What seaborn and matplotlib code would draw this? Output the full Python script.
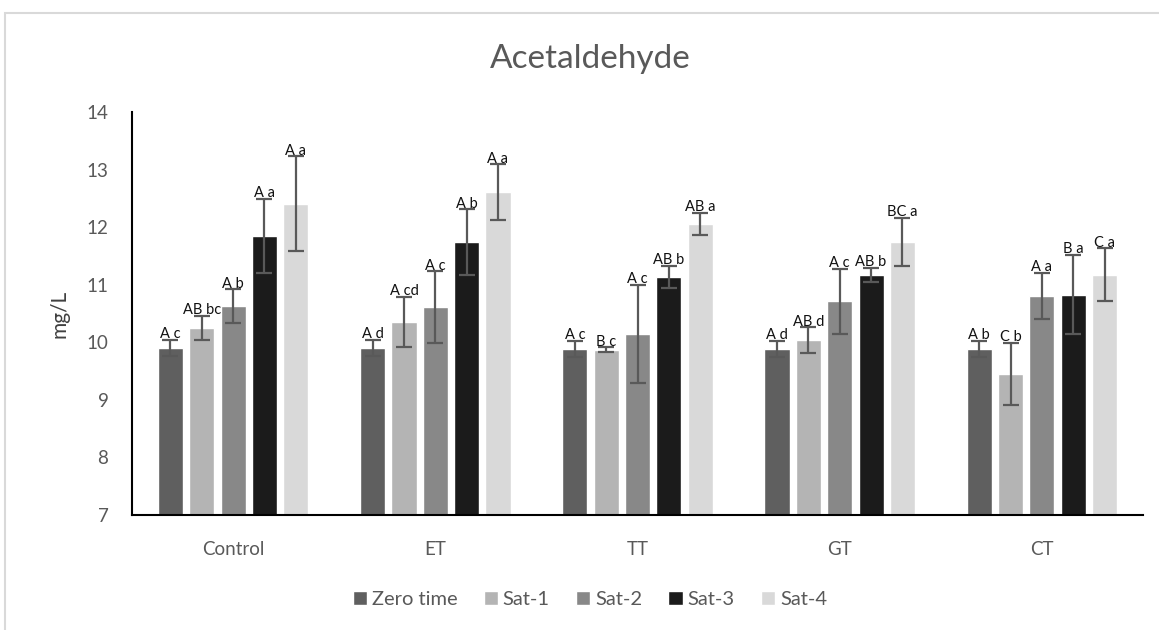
import matplotlib
matplotlib.use("Agg")
import matplotlib.pyplot as plt
from matplotlib.patches import Rectangle
import seaborn as sns
import pandas as pd

# Treatments, sampling times and measured acetaldehyde (mg/L)
treatments = ["Control", "ET", "TT", "GT", "CT"]
times = ["Zero time", "Sat-1", "Sat-2", "Sat-3", "Sat-4"]

zero_time = [9.90, 9.90, 9.89, 9.89, 9.89]
sat_1 = [10.25, 10.35, 9.87, 10.04, 9.45]
sat_2 = [10.63, 10.61, 10.15, 10.71, 10.80]
sat_3 = [11.85, 11.74, 11.14, 11.17, 10.83]
sat_4 = [12.41, 12.61, 12.06, 11.74, 11.17]

# Standard deviations
err_zero = [0.14, 0.14, 0.14, 0.14, 0.14]
err_1 = [0.21, 0.44, 0.04, 0.22, 0.54]
err_2 = [0.29, 0.62, 0.85, 0.57, 0.40]
err_3 = [0.64, 0.57, 0.19, 0.12, 0.69]
err_4 = [0.82, 0.48, 0.19, 0.42, 0.46]

# Significance letters (upper: between treatments, lower: between times)
lab_zero = ["A c", "A d", "A c", "A d", "A b"]
lab_1 = ["AB bc", "A cd", "B c", "AB d", "C b"]
lab_2 = ["A b", "A c", "A c", "A c", "A a"]
lab_3 = ["A a", "A b", "AB b", "AB b", "B a"]
lab_4 = ["A a", "A a", "AB a", "BC a", "C a"]

colors = ["#5f5f5f", "#b4b4b4", "#888888", "#1b1b1b", "#d9d9d9"]

values = [zero_time, sat_1, sat_2, sat_3, sat_4]
errors = [err_zero, err_1, err_2, err_3, err_4]
labels = [lab_zero, lab_1, lab_2, lab_3, lab_4]

df = pd.DataFrame({
    "treatment": [t for _ in times for t in treatments],
    "time": [tm for tm in times for _ in treatments],
    "value": [v for series in values for v in series],
})

sns.set_theme(style="white")
plt.rcParams["font.family"] = ["Lato", "DejaVu Sans"]
text_grey = "#595959"

fig = plt.figure(figsize=(11.59, 6.30), dpi=100)
ax = fig.add_axes([0.1139, 0.1825, 0.8723, 0.6397])

sns.barplot(data=df, x="treatment", y="value", hue="time",
            order=treatments, hue_order=times, palette=colors,
            width=0.775, gap=0.2, errorbar=None, saturation=1,
            ax=ax)

ax.set_ylim(7, 14)
ax.set_yticks(range(7, 15))
ax.set_xlim(-0.5, 4.5)

for container, errs, labs in zip(ax.containers, errors, labels):
    for bar, e, lab in zip(container, errs, labs):
        x = bar.get_x() + bar.get_width() / 2
        h = bar.get_height() + bar.get_y()
        ax.errorbar(x, h, yerr=e, fmt="none", ecolor="#595959",
                    elinewidth=1.6, capsize=6, capthick=1.6, zorder=3)
        ax.text(x, h + e + 0.1, lab, ha="center", va="center",
                fontsize=10.5, color="#111111", zorder=4)

for side in ["top", "right"]:
    ax.spines[side].set_visible(False)
for side in ["left", "bottom"]:
    ax.spines[side].set_color("black")
    ax.spines[side].set_linewidth(1.5)

ax.tick_params(axis="y", length=0, pad=17, labelsize=13.5, labelcolor=text_grey)
ax.tick_params(axis="x", length=0, pad=19, labelsize=13.5, labelcolor=text_grey)
ax.set_xlabel("")
ax.set_ylabel("mg/L", fontsize=15, color="#404040", labelpad=12)

fig.suptitle("Acetaldehyde", x=0.509, y=0.93, fontsize=24, color=text_grey,
             fontweight="normal")

handles, names = ax.get_legend_handles_labels()
ax.legend(handles, names, loc="center", bbox_to_anchor=(0.509, 0.048),
          bbox_transform=fig.transFigure, ncol=5, frameon=False,
          fontsize=14.5, labelcolor=text_grey, handlelength=0.7,
          handleheight=0.7, handletextpad=0.25, columnspacing=1.3)

# chart-area border
fig.patches.append(Rectangle((0.0045, -0.05), 1.1, 1.03, transform=fig.transFigure,
                             fill=False, edgecolor="#d9d9d9", linewidth=1.5))

fig.savefig("out.png", dpi=100, facecolor="white")
